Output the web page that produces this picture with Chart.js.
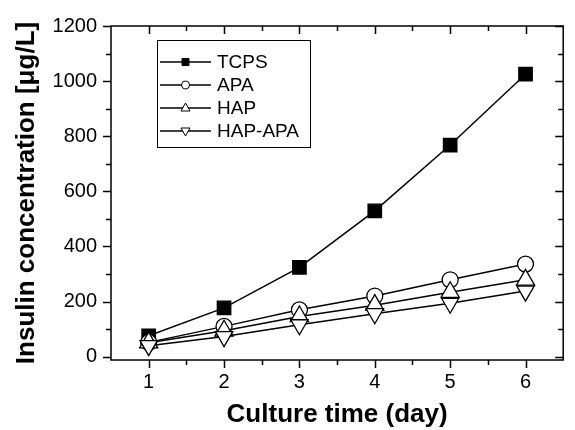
<!DOCTYPE html>
<html>
<head>
<meta charset="utf-8">
<script src="https://cdn.jsdelivr.net/npm/chart.js@4.4.1/dist/chart.umd.min.js"></script>
<style>
  html, body { margin: 0; padding: 0; background: #fff; }
</style>
</head>
<body>
<canvas id="grafico" width="575" height="430"></canvas>
<script>
// Dados
const days = [1, 2, 3, 4, 5, 6];
const tcps = [76, 177, 324, 529, 768, 1025];
const apa = [52, 110, 170, 220, 279, 336];
const hap = [51, 94, 146, 187, 234, 279];
const hapApa = [40, 73, 116, 156, 194, 238];
const seriesNames = ['TCPS', 'APA', 'HAP', 'HAP-APA'];
const xTicks = [1, 2, 3, 4, 5, 6];
const yTicks = [0, 200, 400, 600, 800, 1000, 1200];
const xMinor = [1.5, 2.5, 3.5, 4.5, 5.5];
const yMinor = [100, 300, 500, 700, 900, 1100];

const FONT = '"Liberation Sans", Arial, sans-serif';
Chart.defaults.font.family = FONT;
Chart.defaults.color = '#000';

const toPoints = vals => days.map((d, i) => ({ x: d, y: vals[i] }));

// estilos dos marcadores (gráfico e legenda)
const markers = [
  { style: 'rect', radius: 9.5, rotation: 0, fill: '#000' },
  { style: 'circle', radius: 8, rotation: 0, fill: '#fff' },
  { style: 'triangle', radius: 10.5, rotation: 0, fill: '#fff' },
  { style: 'triangle', radius: 10, rotation: 180, fill: '#fff' }
];
const seriesData = [tcps, apa, hap, hapApa];

const datasets = seriesData.map((vals, i) => ({
  label: seriesNames[i],
  data: toPoints(vals),
  borderColor: '#000',
  borderWidth: 1.5,
  tension: 0,
  fill: false,
  pointStyle: markers[i].style,
  pointRadius: markers[i].radius,
  pointRotation: markers[i].rotation,
  pointBackgroundColor: markers[i].fill,
  pointBorderColor: '#000',
  pointBorderWidth: 1.3,
  order: seriesData.length - i
}));

// Moldura com ticks maiores e menores nos quatro lados
const axisFrame = {
  id: 'axisFrame',
  afterDatasetsDraw(chart) {
    const { ctx, chartArea: a, scales: { x, y } } = chart;
    ctx.save();
    ctx.strokeStyle = '#000';
    ctx.lineWidth = 1.5;
    ctx.strokeRect(a.left, a.top, a.right - a.left, a.bottom - a.top);
    ctx.beginPath();
    const tickX = (v, len) => {
      const px = Math.round(x.getPixelForValue(v)) + 0.5;
      ctx.moveTo(px, a.bottom); ctx.lineTo(px, a.bottom + len);
      ctx.moveTo(px, a.top); ctx.lineTo(px, a.top + len);
    };
    const tickY = (v, len) => {
      const py = Math.round(y.getPixelForValue(v)) + 0.5;
      ctx.moveTo(a.left, py); ctx.lineTo(a.left - len, py);
      ctx.moveTo(a.right, py); ctx.lineTo(a.right - len, py);
    };
    xTicks.forEach(v => tickX(v, 8));
    xMinor.forEach(v => tickX(v, 5));
    yTicks.forEach(v => tickY(v, 8));
    yMinor.forEach(v => tickY(v, 5));
    ctx.stroke();
    ctx.restore();
  }
};

// Legenda no estilo "—■— TCPS"
const boxLegend = {
  id: 'boxLegend',
  afterDraw(chart) {
    const { ctx, chartArea: a } = chart;
    const left = a.left + 46, top = a.top + 14;
    const w = 153, h = 107, rowH = 23;
    ctx.save();
    ctx.strokeStyle = '#000';
    ctx.lineWidth = 1;
    ctx.strokeRect(left + 0.5, top + 0.5, w, h);
    ctx.font = '19px ' + FONT;
    ctx.textBaseline = 'middle';
    ctx.fillStyle = '#000';
    seriesNames.forEach((name, i) => {
      const cy = top + 22 + i * rowH;
      const x0 = left + 3, x1 = left + 54, cx = (x0 + x1) / 2;
      ctx.lineWidth = 1.3;
      ctx.beginPath();
      ctx.moveTo(x0, cy); ctx.lineTo(x1, cy);
      ctx.stroke();
      const m = markers[i];
      ctx.beginPath();
      if (m.style === 'rect') {
        ctx.rect(cx - 3.5, cy - 3.5, 7, 7);
      } else if (m.style === 'circle') {
        ctx.arc(cx, cy, 4, 0, Math.PI * 2);
      } else {
        const s = m.rotation ? -1 : 1;
        ctx.moveTo(cx, cy - s * 5);
        ctx.lineTo(cx + 4.5, cy + s * 3);
        ctx.lineTo(cx - 4.5, cy + s * 3);
        ctx.closePath();
      }
      ctx.fillStyle = m.fill;
      ctx.fill();
      ctx.lineWidth = 1;
      ctx.stroke();
      ctx.fillStyle = '#000';
      ctx.fillText(name, left + 60, cy + 1);
    });
    ctx.restore();
  }
};

new Chart(document.getElementById('grafico'), {
  type: 'line',
  data: { datasets },
  plugins: [axisFrame, boxLegend],
  options: {
    responsive: false,
    animation: false,
    devicePixelRatio: 1,
    layout: { padding: { left: 0, right: 2, top: 25, bottom: 0 } },
    plugins: { legend: { display: false }, tooltip: { enabled: false } },
    scales: {
      x: {
        type: 'linear',
        min: 0.5,
        max: 6.5,
        afterBuildTicks: s => { s.ticks = xTicks.map(v => ({ value: v })); },
        afterFit: s => { s.height = 70; },
        grid: { display: false, drawTicks: false },
        border: { display: false },
        ticks: { font: { size: 20 }, color: '#000', padding: 10, maxRotation: 0, callback: v => String(v) },
        title: {
          display: true,
          text: 'Culture time (day)',
          font: { size: 26, weight: 'bold' },
          color: '#000',
          padding: { top: 0, bottom: 0 }
        }
      },
      y: {
        type: 'linear',
        min: -12,
        max: 1200,
        afterBuildTicks: s => { s.ticks = yTicks.map(v => ({ value: v })); },
        afterFit: s => { s.width = 111; },
        grid: { display: false, drawTicks: false },
        border: { display: false },
        ticks: { font: { size: 20 }, color: '#000', padding: 14, callback: v => String(v) },
        title: {
          display: true,
          text: 'Insulin concentration [μg/L]',
          font: { size: 26, weight: 'bold' },
          color: '#000',
          padding: { top: 11, bottom: 0 }
        }
      }
    }
  }
});
</script>
</body>
</html>
